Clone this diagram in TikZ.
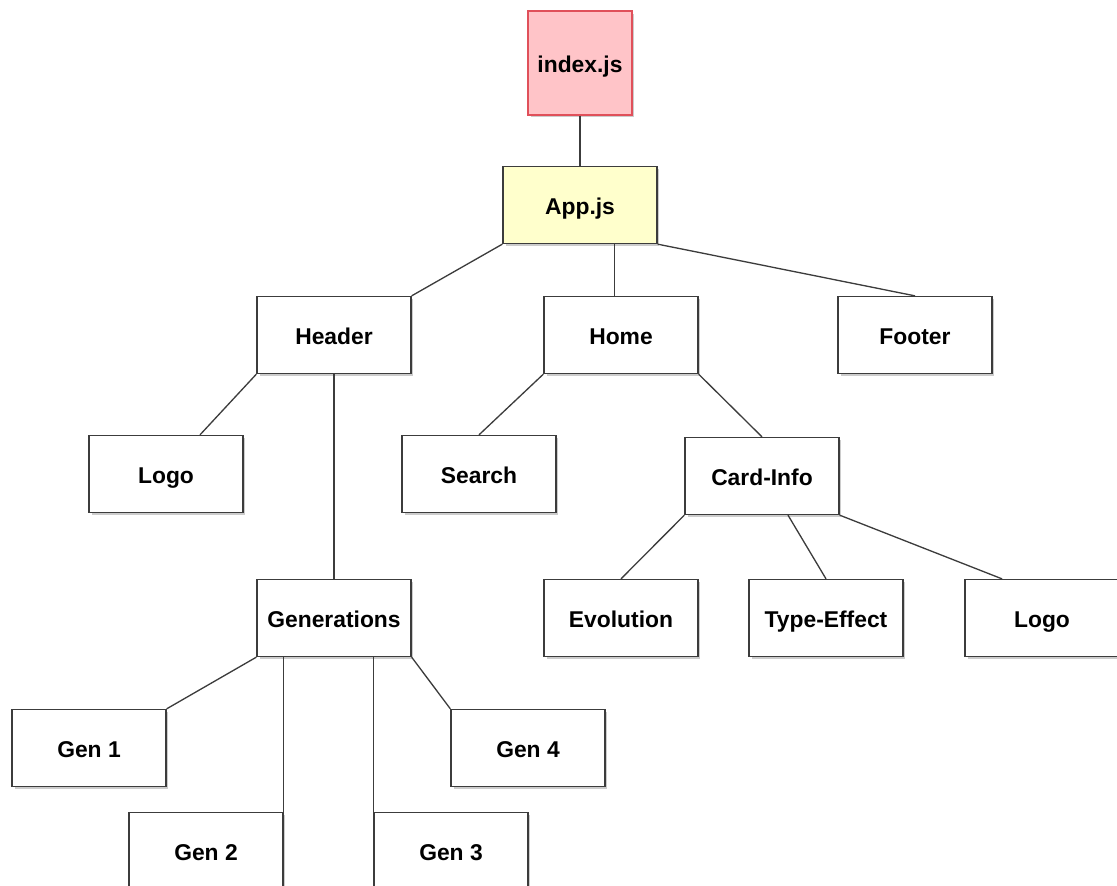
\documentclass[tikz,border=0pt]{standalone}
\usepackage{fontspec}
\setmainfont{Liberation Sans}
\usetikzlibrary{shadows}
\definecolor{idxfill}{HTML}{FFC4C8}
\definecolor{idxline}{HTML}{E0505A}
\definecolor{appfill}{HTML}{FFFFCC}
\definecolor{edgegray}{HTML}{3C3C3C}

\begin{document}
\begin{tikzpicture}[x=0.02cm, y=-0.02cm]
	\tikzstyle{box} = [rectangle, minimum width = 3.08cm, minimum height = 1.54cm, text centered, text height=12pt, text depth=0.7pt, draw=edgegray, fill=white, line width=0.75pt, font=\bfseries\fontsize{13}{15}\selectfont, drop shadow={shadow xshift=0.05cm, shadow yshift=-0.05cm, opacity=0.4}]
	\tikzstyle{link} = [draw=edgegray, line width=0.75pt]

	\useasboundingbox (0,0) rectangle (1117,886);
	\clip (0,0) rectangle (1117,886);

	\node[box, fill=idxfill, draw=idxline, minimum width=2.08cm, minimum height=2.08cm](index) at (580,63){index.js};
	\node[box, fill=appfill](app) at (580,205){App.js};

	\node[box](header) at (334,335){Header};
	\node[box](home) at (621,335){Home};
	\node[box](footer) at (915,335){Footer};

	\node[box](logoA) at (166,474){Logo};
	\node[box](search) at (479,474){Search};
	\node[box](cardinfo) at (762,476){Card-Info};

	\node[box](generations) at (334,618){Generations};
	\node[box](evolution) at (621,618){Evolution};
	\node[box](typeeffect) at (826,618){Type-Effect};
	\node[box](logoB) at (1042,618){Logo};

	\node[box](gen1) at (89,748){Gen 1};
	\node[box](gen4) at (528,748){Gen 4};
	\node[box](gen2) at (206,851){Gen 2};
	\node[box](gen3) at (451,851){Gen 3};

	\draw[link] (index) to (app);
	\draw[link] (app.south west) to (header.north east);
	\draw[link] ([xshift=-0.13cm]home.north) to ([xshift=-0.13cm]home.north |- app.south);
	\draw[link] (app.south east) to (footer.north);

	\draw[link] (header.south west) to ([xshift=0.68cm]logoA.north);
	\draw[link] (header) to (generations);
	\draw[link] (home.south west) to (search.north);
	\draw[link] (home.south east) to (cardinfo.north);

	\draw[link] (cardinfo.south west) to (evolution.north);
	\draw[link] ([xshift=0.52cm]cardinfo.south) to (typeeffect.north);
	\draw[link] (cardinfo.south east) to ([xshift=-0.8cm]logoB.north);

	\draw[link] (generations.south west) to (gen1.north east);
	\draw[link] (gen2.north east) to (gen2.north east |- generations.south);
	\draw[link] (gen3.north west) to (gen3.north west |- generations.south);
	\draw[link] (generations.south east) to (gen4.north west);

\end{tikzpicture}
\end{document}
